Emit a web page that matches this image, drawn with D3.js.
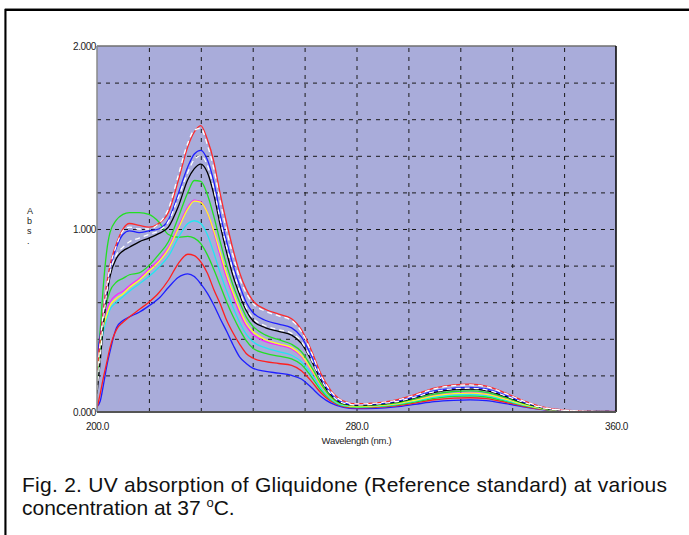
<!DOCTYPE html>
<html>
<head>
<meta charset="utf-8">
<script src="https://cdn.jsdelivr.net/npm/d3@7/dist/d3.min.js"></script>
<style>
  body { margin: 0; background: #fff; }
  svg { display: block; font-family: "Liberation Sans", Arial, sans-serif; }
</style>
</head>
<body>
<div id="chart"></div>
<script>
// wavelength grid (nm) shared by every spectrum
const wavelength = [200, 201, 202, 203, 204, 206, 208, 210, 213, 216, 219, 222, 225, 228, 230, 232,
  234, 236, 238, 240, 242, 244, 246, 248, 252, 256, 260, 263, 266, 269, 272, 276,
  280, 286, 292, 298, 304, 310, 315, 320, 326, 332, 338, 344, 350, 360];

// absorbance, one array per trace
const absRed1 = [0.22, 0.40, 0.56, 0.70, 0.80, 0.92, 1.00, 1.03, 1.02, 1.01, 1.03, 1.09, 1.26, 1.45, 1.53, 1.565,
  1.49, 1.37, 1.19, 1.03, 0.885, 0.76, 0.67, 0.61, 0.56, 0.535, 0.51, 0.45, 0.34, 0.21, 0.12, 0.06,
  0.045, 0.05, 0.065, 0.095, 0.13, 0.148, 0.152, 0.142, 0.103, 0.058, 0.025, 0.01, 0.005, 0.003];
const absWhite1 = [0.20, 0.38, 0.55, 0.69, 0.79, 0.91, 0.99, 1.01, 1.00, 1.00, 1.03, 1.11, 1.29, 1.47, 1.54, 1.55,
  1.46, 1.33, 1.15, 0.99, 0.85, 0.73, 0.65, 0.595, 0.55, 0.525, 0.50, 0.44, 0.33, 0.20, 0.115, 0.058,
  0.044, 0.049, 0.063, 0.092, 0.127, 0.144, 0.148, 0.138, 0.10, 0.057, 0.024, 0.01, 0.005, 0.003];
const absBlue1 = [0.30, 0.42, 0.55, 0.68, 0.78, 0.90, 0.97, 0.99, 0.98, 0.99, 1.00, 1.05, 1.19, 1.34, 1.41, 1.43,
  1.38, 1.26, 1.08, 0.93, 0.80, 0.69, 0.60, 0.545, 0.50, 0.48, 0.46, 0.41, 0.31, 0.19, 0.105, 0.05,
  0.04, 0.044, 0.058, 0.084, 0.115, 0.131, 0.135, 0.126, 0.092, 0.052, 0.022, 0.009, 0.004, 0.003];
const absWhite2 = [0.12, 0.30, 0.50, 0.65, 0.76, 0.86, 0.90, 0.93, 0.95, 0.97, 0.99, 1.04, 1.17, 1.31, 1.38, 1.40,
  1.35, 1.22, 1.05, 0.90, 0.77, 0.66, 0.57, 0.515, 0.47, 0.45, 0.43, 0.385, 0.29, 0.18, 0.10, 0.048,
  0.038, 0.043, 0.056, 0.081, 0.111, 0.127, 0.13, 0.121, 0.088, 0.05, 0.021, 0.009, 0.004, 0.002];
const absBlack = [0.10, 0.28, 0.48, 0.63, 0.74, 0.84, 0.88, 0.90, 0.93, 0.95, 0.975, 1.01, 1.12, 1.27, 1.33, 1.355,
  1.31, 1.19, 1.02, 0.87, 0.74, 0.64, 0.555, 0.50, 0.46, 0.44, 0.42, 0.375, 0.285, 0.175, 0.095, 0.046,
  0.037, 0.041, 0.054, 0.078, 0.107, 0.122, 0.125, 0.117, 0.085, 0.048, 0.02, 0.008, 0.004, 0.002];
const absGreen1 = [0.18, 0.35, 0.50, 0.60, 0.66, 0.71, 0.73, 0.75, 0.76, 0.80, 0.86, 0.93, 1.06, 1.20, 1.265, 1.26,
  1.19, 1.07, 0.93, 0.80, 0.69, 0.60, 0.52, 0.47, 0.42, 0.395, 0.37, 0.33, 0.25, 0.155, 0.085, 0.042,
  0.034, 0.038, 0.049, 0.072, 0.098, 0.112, 0.115, 0.107, 0.078, 0.044, 0.019, 0.008, 0.004, 0.002];
const absMagenta = [0.27, 0.40, 0.50, 0.56, 0.60, 0.64, 0.66, 0.69, 0.73, 0.78, 0.83, 0.90, 1.01, 1.12, 1.158, 1.15,
  1.09, 0.98, 0.85, 0.73, 0.63, 0.54, 0.47, 0.425, 0.385, 0.365, 0.345, 0.305, 0.23, 0.145, 0.08, 0.04,
  0.031, 0.035, 0.045, 0.066, 0.09, 0.102, 0.105, 0.098, 0.071, 0.04, 0.017, 0.007, 0.003, 0.002];
const absYellow = [0.24, 0.37, 0.47, 0.53, 0.58, 0.62, 0.645, 0.68, 0.72, 0.77, 0.82, 0.89, 1.00, 1.11, 1.152, 1.145,
  1.09, 0.99, 0.87, 0.75, 0.65, 0.56, 0.485, 0.44, 0.395, 0.372, 0.352, 0.31, 0.235, 0.148, 0.082, 0.04,
  0.03, 0.034, 0.044, 0.064, 0.088, 0.10, 0.103, 0.096, 0.07, 0.039, 0.017, 0.007, 0.003, 0.002];
const absCyan = [0.20, 0.33, 0.44, 0.51, 0.56, 0.60, 0.63, 0.66, 0.70, 0.74, 0.79, 0.85, 0.95, 1.03, 1.045, 1.03,
  0.97, 0.87, 0.76, 0.66, 0.57, 0.49, 0.425, 0.385, 0.35, 0.33, 0.31, 0.275, 0.21, 0.13, 0.072, 0.035,
  0.028, 0.031, 0.041, 0.059, 0.081, 0.093, 0.095, 0.089, 0.064, 0.036, 0.016, 0.006, 0.003, 0.002];
const absGreen2 = [0.25, 0.45, 0.70, 0.88, 0.98, 1.05, 1.08, 1.09, 1.09, 1.08, 1.04, 0.97, 0.955, 0.96, 0.95, 0.92,
  0.86, 0.78, 0.69, 0.60, 0.52, 0.45, 0.39, 0.35, 0.32, 0.305, 0.29, 0.26, 0.195, 0.12, 0.068, 0.033,
  0.026, 0.029, 0.038, 0.055, 0.075, 0.086, 0.088, 0.082, 0.06, 0.034, 0.014, 0.006, 0.003, 0.002];
const absRed2 = [0.02, 0.10, 0.19, 0.27, 0.35, 0.45, 0.49, 0.52, 0.56, 0.60, 0.65, 0.72, 0.81, 0.862, 0.855, 0.82,
  0.76, 0.67, 0.59, 0.50, 0.43, 0.37, 0.32, 0.295, 0.275, 0.265, 0.255, 0.225, 0.17, 0.105, 0.06, 0.03,
  0.023, 0.026, 0.033, 0.049, 0.067, 0.076, 0.078, 0.073, 0.053, 0.03, 0.013, 0.005, 0.003, 0.002];
const absBlue2 = [0.03, 0.06, 0.15, 0.25, 0.33, 0.46, 0.50, 0.52, 0.545, 0.58, 0.62, 0.68, 0.735, 0.755, 0.74, 0.70,
  0.65, 0.585, 0.51, 0.44, 0.365, 0.30, 0.265, 0.24, 0.222, 0.212, 0.20, 0.18, 0.135, 0.085, 0.05, 0.026,
  0.018, 0.02, 0.028, 0.042, 0.057, 0.064, 0.066, 0.062, 0.046, 0.027, 0.012, 0.005, 0.002, 0.001];

const xTickLabels = [200, 280, 360];
const yTickLabels = [0, 1, 2];

// draw order: lowest trace first, white overlays last
const traces = [
  { values: absBlue2, color: "#1f1fff" },
  { values: absRed2, color: "#ff1f1f" },
  { values: absGreen2, color: "#22e022" },
  { values: absCyan, color: "#22e8f0" },
  { values: absMagenta, color: "#ff22ff" },
  { values: absYellow, color: "#ffff22" },
  { values: absGreen1, color: "#22e022" },
  { values: absBlack, color: "#000000" },
  { values: absBlue1, color: "#1f1fff" },
  { values: absRed1, color: "#ff2a2a" },
  { values: absWhite2, color: "#ffffff", dash: "5,4" },
  { values: absWhite1, color: "#ffffff", dash: "5,4" }
];

var width = 689, height = 535;
var plot = { left: 97, top: 46, right: 616, bottom: 412 };

var svg = d3.select("#chart")
  .append("svg")
  .attr("width", width)
  .attr("height", height);

// outer figure frame (top and left edges visible)
svg.append("path")
  .attr("d", "M5," + height + " V8.5 H" + width)
  .attr("fill", "none")
  .attr("stroke", "#888")
  .attr("stroke-width", 1);
svg.append("path")
  .attr("d", "M5.5," + height + " V10 H" + width)
  .attr("fill", "none")
  .attr("stroke", "#000")
  .attr("stroke-width", 2);

var x = d3.scaleLinear().domain([200, 360]).range([plot.left, plot.right]);
var y = d3.scaleLinear().domain([0, 2]).range([plot.bottom, plot.top]);

svg.append("rect")
  .attr("x", plot.left)
  .attr("y", plot.top)
  .attr("width", plot.right - plot.left)
  .attr("height", plot.bottom - plot.top)
  .style("fill", "#a9acda");

// dashed grid
svg.append("g")
  .attr("transform", "translate(0," + plot.bottom + ")")
  .call(d3.axisBottom(x).tickValues(d3.range(216, 360, 16)).tickSize(-(plot.bottom - plot.top)).tickFormat(""))
  .call(g => g.select(".domain").remove())
  .selectAll("line")
  .attr("stroke", "#1a1a1a")
  .attr("stroke-dasharray", "4,5");

svg.append("g")
  .attr("transform", "translate(" + plot.left + ",0)")
  .call(d3.axisLeft(y).tickValues(d3.range(0.2, 2, 0.2)).tickSize(-(plot.right - plot.left)).tickFormat(""))
  .call(g => g.select(".domain").remove())
  .selectAll("line")
  .attr("stroke", "#1a1a1a")
  .attr("stroke-dasharray", "4,5");

// spectra
var line = d3.line()
  .x((d, i) => x(wavelength[i]))
  .y(d => y(d))
  .curve(d3.curveMonotoneX);

svg.append("clipPath").attr("id", "plot-clip")
  .append("rect")
  .attr("x", plot.left)
  .attr("y", plot.top)
  .attr("width", plot.right - plot.left)
  .attr("height", plot.bottom - plot.top);

svg.append("g")
  .attr("clip-path", "url(#plot-clip)")
  .selectAll("path")
  .data(traces)
  .join("path")
  .attr("d", d => line(d.values))
  .attr("fill", "none")
  .attr("stroke", d => d.color)
  .attr("stroke-width", 1.3)
  .attr("stroke-dasharray", d => d.dash || null);

// plot border
svg.append("line")
  .attr("x1", plot.left).attr("x2", plot.right)
  .attr("y1", plot.top).attr("y2", plot.top)
  .attr("stroke", "#6f6f6f").attr("stroke-width", 1.5);
svg.append("line")
  .attr("x1", plot.left).attr("x2", plot.left)
  .attr("y1", plot.top).attr("y2", plot.bottom)
  .attr("stroke", "#8a8a8a").attr("stroke-width", 1.5);
svg.append("line")
  .attr("x1", plot.right).attr("x2", plot.right)
  .attr("y1", plot.top).attr("y2", plot.bottom)
  .attr("stroke", "#000").attr("stroke-width", 1.5);
svg.append("line")
  .attr("x1", plot.left).attr("x2", plot.right)
  .attr("y1", plot.bottom).attr("y2", plot.bottom)
  .attr("stroke", "#555").attr("stroke-width", 2);

// tick labels
var yAxis = svg.append("g")
  .attr("transform", "translate(" + (plot.left - 1) + ",0)")
  .call(d3.axisLeft(y).tickValues(yTickLabels).tickFormat(d3.format(".3f")).tickSize(0).tickPadding(0));
yAxis.select(".domain").remove();
yAxis.selectAll("text")
  .attr("fill", "#222")
  .style("font-size", "10px")
  .style("letter-spacing", "-0.4px");

var xAxis = svg.append("g")
  .attr("transform", "translate(0," + (plot.bottom + 11) + ")")
  .call(d3.axisBottom(x).tickValues(xTickLabels).tickFormat(d3.format(".1f")).tickSize(0).tickPadding(0));
xAxis.select(".domain").remove();
xAxis.selectAll("text")
  .attr("fill", "#222")
  .style("font-size", "10px")
  .style("letter-spacing", "-0.4px");

svg.append("text")
  .attr("x", x(280))
  .attr("y", 444)
  .attr("text-anchor", "middle")
  .attr("fill", "#222")
  .style("font-size", "9.5px")
  .style("letter-spacing", "-0.3px")
  .text("Wavelength (nm.)");

// stacked y label
var yLabel = svg.append("text")
  .attr("fill", "#222")
  .style("font-size", "9px");
[["A", 214], ["b", 224], ["s", 234], [".", 244]].forEach(p => {
  yLabel.append("tspan").attr("x", 27).attr("y", p[1]).text(p[0]);
});

// caption
svg.append("text")
  .attr("x", 22)
  .attr("y", 492)
  .attr("textLength", 645)
  .attr("lengthAdjust", "spacing")
  .attr("fill", "#111")
  .style("font-size", "21px")
  .text("Fig. 2. UV absorption of Gliquidone (Reference standard) at various");

var cap2 = svg.append("text")
  .attr("x", 22)
  .attr("y", 515)
  .attr("fill", "#111")
  .style("font-size", "21px");
cap2.append("tspan").text("concentration at 37 ");
cap2.append("tspan").attr("dy", -8).style("font-size", "13px").text("o");
cap2.append("tspan").attr("dy", 8).text("C.");
</script>
</body>
</html>
